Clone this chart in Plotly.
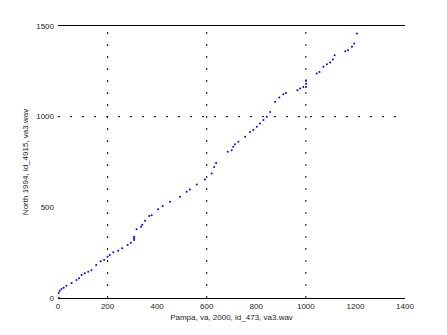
import plotly.graph_objects as go

# Data (sample index vs sample index alignment path)
x_vals = [3, 3, 7, 14, 23, 34, 55, 75, 85, 95, 108, 122, 135, 154, 172, 186, 200, 209,
          223, 243, 259, 281, 294, 307, 307, 307, 317, 335, 340, 351, 368, 378, 404, 422,
          452, 492, 519, 532, 560, 593, 620, 630, 638, 685, 701, 707, 714, 728, 755, 775,
          788, 802, 815, 829, 842, 856, 876, 893, 909, 920, 966, 977, 990, 1001, 1001,
          1001, 1044, 1055, 1071, 1085, 1098, 1109, 1116, 1159, 1170, 1186, 1195, 1206]
y_vals = [0, 28, 40, 50, 57, 68, 83, 99, 109, 127, 136, 145, 153, 182, 202, 209, 228, 237,
          252, 261, 274, 292, 305, 320, 329, 338, 379, 393, 404, 426, 452, 457, 489, 507,
          531, 558, 586, 599, 626, 654, 687, 723, 745, 806, 815, 834, 848, 861, 889, 916,
          926, 944, 963, 981, 999, 1026, 1082, 1106, 1124, 1131, 1146, 1155, 1164, 1164,
          1182, 1201, 1238, 1247, 1275, 1289, 1299, 1315, 1339, 1361, 1366, 1385, 1403, 1458]

x_ticks = [0, 200, 400, 600, 800, 1000, 1200, 1400]
y_ticks = [0, 500, 1000, 1500]
x_grid = [200, 600, 1000]
y_grid = [1000]

x_title = "Pampa, va, 2000, id_473, va3.wav"
y_title = "North 1994, id_4915, va3.wav"

fig = go.Figure()
fig.add_trace(go.Scatter(
    x=x_vals, y=y_vals, mode="markers",
    marker=dict(color="#0000ff", size=2, line=dict(width=0)),
    showlegend=False, hoverinfo="skip"))

for gx in x_grid:
    fig.add_shape(type="line", xref="x", yref="y", x0=gx, x1=gx, y0=0, y1=1500,
                  line=dict(color="black", width=1, dash="2px,10px"), layer="below")
for gy in y_grid:
    fig.add_shape(type="line", xref="x", yref="y", x0=0, x1=1400, y0=gy, y1=gy,
                  line=dict(color="black", width=1, dash="2px,10px"), layer="below")

font = dict(family="Liberation Sans, Arial, sans-serif", size=8, color="#222222")

fig.update_layout(
    width=447, height=335,
    margin=dict(l=58, r=42, t=26, b=37),
    paper_bgcolor="white", plot_bgcolor="white",
    font=font,
    xaxis=dict(range=[0, 1400], tickvals=x_ticks, ticktext=[str(v) for v in x_ticks],
               showgrid=False, zeroline=False, showline=True, mirror=True,
               linecolor="black", linewidth=1, ticks="", ticklen=0,
               title=dict(text=x_title, standoff=4, font=font)),
    yaxis=dict(range=[0, 1500], tickvals=y_ticks, ticktext=[str(v) for v in y_ticks],
               showgrid=False, zeroline=False, showline=False, ticklabelstandoff=3,
               ticks="", title=dict(text=y_title, standoff=6, font=font)),
)

fig.write_html("out.html")
